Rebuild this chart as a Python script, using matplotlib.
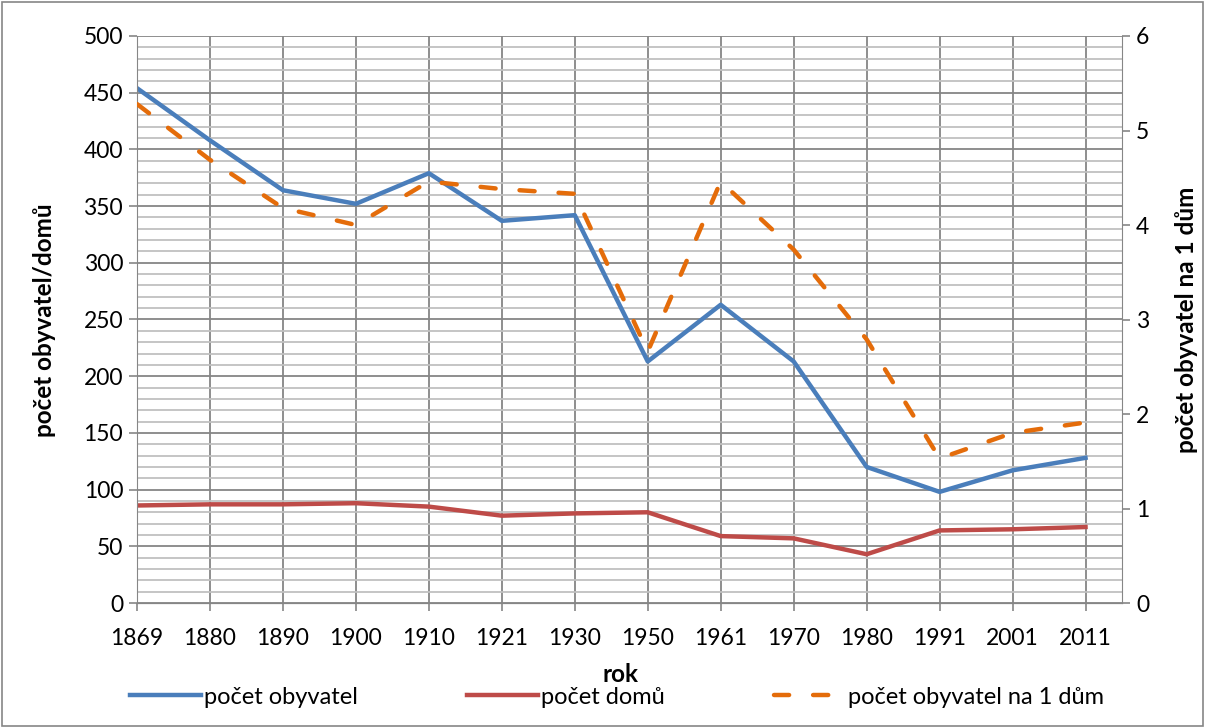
import matplotlib
matplotlib.use("Agg")
import matplotlib.pyplot as plt
from matplotlib.ticker import MultipleLocator

years = ["1869", "1880", "1890", "1900", "1910", "1921", "1930", "1950",
         "1961", "1970", "1980", "1991", "2001", "2011"]
obyvatel = [454, 408, 364, 352, 379, 337, 342, 213, 263, 213, 120, 98, 117, 128]
domu = [86, 87, 87, 88, 85, 77, 79, 80, 59, 57, 43, 64, 65, 67]
na_dum = [5.28, 4.69, 4.18, 4.00, 4.46, 4.38, 4.33, 2.66, 4.46, 3.74, 2.79, 1.53, 1.80, 1.91]

plt.rcParams['font.family'] = ['Lato', 'DejaVu Sans']

W, H = 1205, 728
fig = plt.figure(figsize=(W / 100, H / 100), dpi=100)
ax = fig.add_axes([137 / W, 1 - 603 / H, (1122 - 137) / W, (603 - 36) / H])

x = list(range(len(years)))
blue = "#4a7ebb"
red = "#be4b48"
orange = "#e46c0a"

ax.set_xlim(0, 13.5)
ax.set_ylim(0, 500)
ax.yaxis.set_major_locator(MultipleLocator(50))
ax.yaxis.set_minor_locator(MultipleLocator(10))
ax.set_xticks(x)
ax.set_xticklabels(years)
ax.grid(True, which='minor', axis='y', color='#c0c0c0', lw=1.3)
ax.grid(True, which='major', axis='y', color='#868686', lw=1.3)
ax.grid(True, which='major', axis='x', color='#868686', lw=1.3)
ax.set_axisbelow(True)

l1, = ax.plot(x, obyvatel, color=blue, lw=3.2, label='počet obyvatel')
l2, = ax.plot(x, domu, color=red, lw=3.2, label='počet domů')

ax2 = ax.twinx()
ax2.set_ylim(0, 6)
ax2.yaxis.set_major_locator(MultipleLocator(1))
l3, = ax2.plot(x, na_dum, color=orange, lw=3.2, dashes=(3.4, 5.4),
               dash_capstyle='round', label='počet obyvatel na 1 dům')

for a in (ax, ax2):
    a.spines['top'].set_visible(False)
    for s in ('left', 'right', 'bottom'):
        a.spines[s].set_color('#868686')
    a.tick_params(axis='both', which='major', labelsize=16.5, length=6, width=1.2,
                  color='#868686', pad=4)
    a.tick_params(axis='both', which='minor', length=0)
ax2.spines['left'].set_visible(False)
ax.spines['right'].set_visible(False)
ax.tick_params(axis='x', pad=12)

# axis titles placed at the reference positions
fig.text(45 / W, 1 - 320 / H, 'počet obyvatel/domů', rotation=90, fontsize=17.5,
         fontweight='bold', ha='center', va='center')
fig.text(1187 / W, 1 - 320 / H, 'počet obyvatel na 1 dům', rotation=90, fontsize=17.5,
         fontweight='bold', ha='center', va='center')
fig.text(621 / W, 1 - 674 / H, 'rok', fontsize=17.5, fontweight='bold',
         ha='center', va='center')

fig.legend(handles=[l1, l2, l3], loc='center', bbox_to_anchor=(617 / W, 1 - 697 / H),
           ncol=3, frameon=False, fontsize=17, handlelength=3.0, handletextpad=0.15,
           columnspacing=4.6, borderpad=0)

# outer chart border
fig.patches.append(plt.Rectangle((2 / W, 2 / H), (W - 4) / W, (H - 4) / H,
                                 transform=fig.transFigure, fill=False,
                                 edgecolor='#868686', lw=1.2))

fig.savefig('out.png', dpi=100)
